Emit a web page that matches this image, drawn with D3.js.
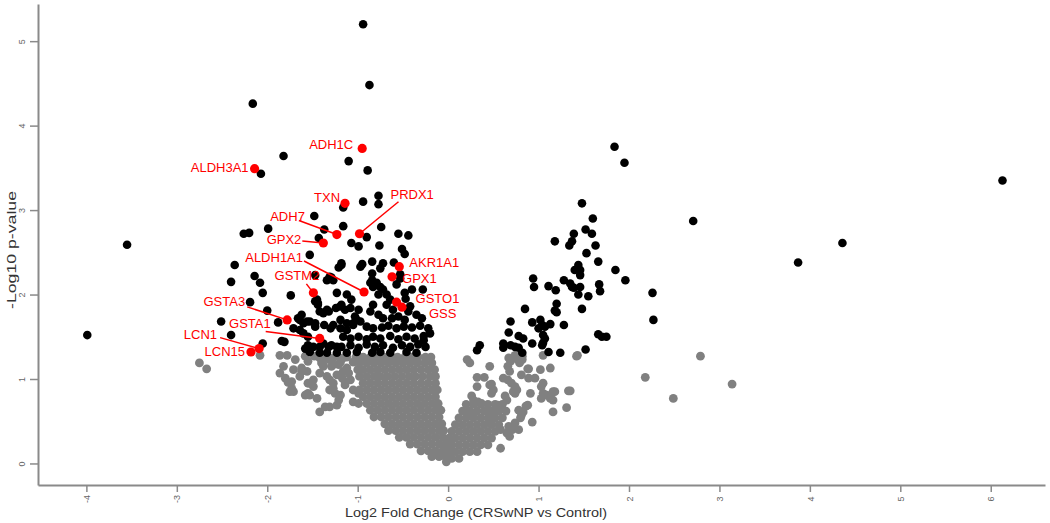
<!DOCTYPE html>
<html>
<head>
<meta charset="utf-8">
<script src="https://cdn.jsdelivr.net/npm/d3@7"></script>
<style>
body { margin: 0; background: #fff; }
svg { display: block; font-family: "Liberation Sans", Arial, sans-serif; }
</style>
</head>
<body>
<svg id="volcano"></svg>
<script>
// ticks
var xTicks = [-4, -3, -2, -1, 0, 1, 2, 3, 4, 5, 6];
var yTicks = [0, 1, 2, 3, 4, 5];

// highlighted genes (log2FC, -log10 p)
var geneNames = ["ADH1C", "ALDH3A1", "TXN", "PRDX1", "ADH7", "GPX2", "ALDH1A1", "GSTM2",
  "GSTA3", "GSTA1", "LCN1", "LCN15", "AKR1A1", "GPX1", "GSTO1", "GSS"];
var geneFC = [-0.95, -2.14, -1.14, -0.98, -1.23, -1.38, -0.93, -1.49,
  -1.78, -1.42, -2.09, -2.18, -0.54, -0.62, -0.57, -0.51];
var genePval = [3.73, 3.49, 3.08, 2.72, 2.71, 2.61, 2.03, 2.02,
  1.70, 1.48, 1.36, 1.32, 2.33, 2.21, 1.91, 1.85];

// significant proteins (black)
var sigPoints = [
  [-3.99,1.52],[-3.55,2.59],[-2.16,4.26],[-0.94,5.20],[-0.87,4.48],[-1.82,3.64],[-1.10,3.58],[-0.89,3.47],[-2.07,3.43],
  [-1.16,3.03],[-0.94,3.10],[-0.77,3.17],[-0.77,3.07],[-1.48,2.93],[-1.16,2.81],[-0.74,2.80],[-1.37,2.77],[-0.90,2.68],
  [-2.26,2.72],[-2.20,2.73],[-1.99,2.78],[-0.55,2.72],[-0.44,2.70],[-1.43,2.67],
  [-1.07,2.61],[-0.99,2.57],[-0.76,2.58],[-0.51,2.54],[-0.48,2.48],[-1.53,2.47],
  [-2.36,2.35],[-2.40,2.15],[-2.14,2.22],[-2.08,2.14],[-2.05,2.02],[-1.47,2.23],[-1.29,2.20],[-1.21,2.32],[-1.18,2.35],
  [-0.95,2.36],[-0.84,2.39],[-0.72,2.37],[-0.75,2.31],[-0.84,2.25],[-0.60,2.38],[-0.53,2.24],[-0.53,2.19],[-0.57,2.12],
  [-0.28,2.06],[-0.47,1.95],[-1.74,1.99],[-1.45,1.94],[-1.44,1.88],[-2.19,1.91],[-2.00,1.81],[-2.51,1.68],[-2.40,1.52],
  [-2.05,1.42],[-1.88,1.67],[-1.84,1.45],[-1.81,1.44],
  [-1.18,2.37],[-0.97,2.33],[-0.84,2.17],[-0.79,2.14],[-0.75,2.09],[-0.83,2.09],[-0.86,2.14],[-0.72,2.06],[-0.77,2.00],[-0.68,2.00],
  [-0.40,2.06],[-0.48,2.02],[-1.12,2.00],[-1.07,1.94],[-0.64,1.94],[-0.68,1.88],[-0.61,1.82],[-0.42,1.86],[-0.44,1.80],[-0.35,1.76],[-0.29,1.72],
  [-1.19,1.86],[-1.14,1.82],[-1.08,1.84],[-0.99,1.82],[-1.03,1.74],[-0.83,1.88],[-0.86,1.80],[-0.77,1.76],[-0.72,1.72],[-0.62,1.72],[-0.55,1.74],[-0.48,1.70],
  [-1.19,1.70],[-1.12,1.66],[-1.05,1.64],[-0.97,1.68],
  [-0.90,1.62],[-0.83,1.60],[-0.73,1.61],[-0.66,1.63],[-0.57,1.60],[-0.49,1.62],[-0.40,1.61],[-0.31,1.63],[-0.22,1.60],[-0.20,1.54],
  [-1.16,1.50],[-1.08,1.48],[-0.99,1.50],[-0.90,1.47],[-0.83,1.50],[-0.75,1.48],[-0.64,1.51],[-0.55,1.47],[-0.46,1.50],[-0.37,1.48],[-0.27,1.51],
  [-1.18,1.38],[-1.08,1.40],[-0.99,1.37],[-0.90,1.41],[-0.81,1.38],[-0.72,1.40],[-0.61,1.37],[-0.51,1.40],[-0.42,1.38],[-0.33,1.41],[-0.25,1.38],
  [-1.12,1.31],[-1.01,1.32],[-0.84,1.31],[-0.75,1.32],[-0.64,1.31],[-0.46,1.32],[-0.35,1.31],[-0.27,1.46],
  [-1.34,2.17],[-1.31,2.21],[-1.27,2.17],[-1.23,2.02],[-1.34,1.82],[-1.32,1.80],[-1.24,1.84],[-1.18,1.88],
  [-1.47,1.92],[-1.44,1.90],[-1.42,1.80],[-1.38,1.78],
  [-1.27,1.64],[-1.19,1.60],[-1.12,1.58],[-1.05,1.66],[-1.01,1.70],
  [-1.66,1.72],[-1.62,1.76],[-1.64,1.70],[-1.60,1.66],[-1.56,1.68],[-1.47,1.66],[-1.53,1.68],[-1.47,1.62],[-1.37,1.64],[-1.30,1.60],
  [-1.64,1.58],[-1.60,1.54],[-1.55,1.50],[-1.71,1.60],
  [-1.58,1.36],[-1.55,1.40],[-1.53,1.32],[-1.49,1.38],[-1.42,1.38],[-1.38,1.42],[-1.32,1.38],[-1.29,1.40],[-1.23,1.38],
  [-1.42,1.31],[-1.34,1.31],[-1.23,1.31],
  [1.84,3.75],[1.95,3.56],[2.71,2.87],[2.26,2.02],[2.27,1.70],[3.87,2.38],[4.36,2.61],[6.13,3.35],
  [1.48,3.08],[1.60,2.90],[1.52,2.77],[1.59,2.72],[1.39,2.72],[1.18,2.63],[1.37,2.63],[1.34,2.58],[1.63,2.58],[1.53,2.49],[1.66,2.39],
  [1.44,2.35],[1.40,2.29],[1.46,2.29],[1.46,2.23],[1.85,2.29],[1.96,2.17],[0.94,2.19],[0.95,2.09],[1.28,2.17],[1.11,2.10],[1.19,2.05],
  [1.35,2.13],[1.37,2.09],[1.39,2.08],[1.46,2.09],[1.67,2.12],[1.68,2.04],[1.44,2.00],[1.55,1.98],[1.20,1.89],[1.18,1.81],[1.20,1.79],
  [1.48,1.83],[0.85,1.83],[0.69,1.68],[0.93,1.67],[1.02,1.70],[1.04,1.64],[1.00,1.60],[1.07,1.62],[1.13,1.65],[1.28,1.64],
  [0.67,1.55],[0.78,1.51],[0.83,1.48],[1.05,1.52],[1.07,1.48],[1.05,1.43],[1.04,1.40],[1.66,1.53],[1.70,1.50],[1.75,1.50],
  [0.61,1.42],[0.69,1.40],[0.74,1.38],[0.78,1.37],[0.93,1.42],[0.82,1.31],[1.11,1.32],[1.24,1.31],[1.52,1.35],[0.35,1.40],[0.32,1.34],[0.61,1.37]
];

// non-significant proteins (grey)
var nsPoints = [
  [-1.02,1.26],[-0.94,1.26],[-0.86,1.26],[-0.79,1.26],[-0.71,1.26],[-0.63,1.26],[-0.56,1.26],[-0.48,1.26],[-0.40,1.26],[-0.33,1.26],[-0.25,1.26],[-0.19,1.26],
  [-0.98,1.19],[-0.90,1.19],[-0.82,1.19],[-0.74,1.19],[-0.66,1.19],[-0.58,1.19],[-0.50,1.19],[-0.42,1.19],[-0.34,1.19],[-0.26,1.19],[-0.18,1.19],
  [-1.00,1.11],[-0.94,1.11],[-0.86,1.11],[-0.78,1.11],[-0.70,1.11],[-0.62,1.11],[-0.54,1.11],[-0.46,1.11],[-0.38,1.11],[-0.30,1.11],[-0.22,1.11],[-0.15,1.11],
  [-0.98,1.03],[-0.90,1.03],[-0.82,1.03],[-0.75,1.03],[-0.67,1.03],[-0.59,1.03],[-0.51,1.03],[-0.43,1.03],[-0.36,1.03],[-0.28,1.03],[-0.20,1.03],[-0.14,1.03],
  [-0.94,0.95],[-0.86,0.95],[-0.78,0.95],[-0.70,0.95],[-0.62,0.95],[-0.54,0.95],[-0.46,0.95],[-0.38,0.95],[-0.30,0.95],[-0.22,0.95],[-0.14,0.95],
  [-0.98,0.87],[-0.90,0.87],[-0.82,0.87],[-0.74,0.87],[-0.66,0.87],[-0.58,0.87],[-0.50,0.87],[-0.42,0.87],[-0.34,0.87],[-0.26,0.87],[-0.18,0.87],[-0.12,0.87],
  [-0.94,0.79],[-0.86,0.79],[-0.78,0.79],[-0.70,0.79],[-0.62,0.79],[-0.54,0.79],[-0.46,0.79],[-0.38,0.79],[-0.30,0.79],[-0.22,0.79],[-0.14,0.79],
  [-0.90,0.71],[-0.82,0.71],[-0.74,0.71],[-0.66,0.71],[-0.58,0.71],[-0.50,0.71],[-0.42,0.71],[-0.34,0.71],[-0.26,0.71],[-0.18,0.71],[-0.11,0.71],
  [-0.86,0.63],[-0.78,0.63],[-0.70,0.63],[-0.62,0.63],[-0.54,0.63],[-0.46,0.63],[-0.38,0.63],[-0.30,0.63],[-0.22,0.63],[-0.14,0.63],[-0.08,0.63],
  [-0.82,0.55],[-0.74,0.55],[-0.66,0.55],[-0.58,0.55],[-0.50,0.55],[-0.42,0.55],[-0.34,0.55],[-0.26,0.55],[-0.18,0.55],[-0.10,0.55],
  [-0.70,0.47],[-0.62,0.47],[-0.54,0.47],[-0.46,0.47],[-0.38,0.47],[-0.30,0.47],[-0.22,0.47],[-0.14,0.47],[-0.07,0.47],
  [-0.66,0.39],[-0.58,0.39],[-0.50,0.39],[-0.42,0.39],[-0.34,0.39],[-0.26,0.39],[-0.18,0.39],[-0.10,0.39],[-0.05,0.39],
  [-0.54,0.31],[-0.46,0.31],[-0.38,0.31],[-0.30,0.31],[-0.22,0.31],[-0.14,0.31],[-0.06,0.31],
  [-0.42,0.23],[-0.34,0.23],[-0.26,0.23],[-0.18,0.23],[-0.10,0.23],[-0.03,0.23],
  [-0.30,0.15],[-0.22,0.15],[-0.14,0.15],[-0.06,0.15],[0.00,0.15],
  [-0.18,0.08],[-0.10,0.08],[-0.03,0.08],[-0.02,0.02],
  [0.20,0.70],[0.28,0.70],[0.36,0.70],[0.44,0.70],[0.52,0.70],[0.60,0.70],
  [0.16,0.62],[0.24,0.62],[0.32,0.62],[0.40,0.62],[0.48,0.62],[0.56,0.62],[0.64,0.62],
  [0.12,0.54],[0.20,0.54],[0.28,0.54],[0.36,0.54],[0.44,0.54],[0.52,0.54],[0.60,0.54],
  [0.08,0.46],[0.16,0.46],[0.24,0.46],[0.32,0.46],[0.40,0.46],[0.48,0.46],[0.56,0.46],
  [0.04,0.38],[0.12,0.38],[0.20,0.38],[0.28,0.38],[0.36,0.38],[0.44,0.38],[0.52,0.38],
  [0.01,0.30],[0.08,0.30],[0.16,0.30],[0.24,0.30],[0.32,0.30],[0.40,0.30],[0.48,0.30],
  [0.04,0.22],[0.12,0.22],[0.20,0.22],[0.28,0.22],[0.36,0.22],[0.44,0.22],
  [0.02,0.14],[0.08,0.14],[0.16,0.14],[0.24,0.14],[0.32,0.14],
  [0.04,0.06],[0.12,0.06],
  [0.21,1.23],[0.24,1.19],[0.46,1.15],[0.32,1.02],[0.40,1.02],[0.32,0.91],[0.46,0.93],[0.48,0.94],[0.50,0.87],[0.48,0.83],
  [0.61,1.01],[0.66,0.99],[0.70,0.95],[0.74,0.91],[0.66,1.15],[0.68,1.09],[0.77,1.23],[0.79,1.19],[0.81,1.25],
  [0.89,1.12],[1.02,1.11],[1.13,1.13],[0.81,1.05],[0.89,1.01],[0.96,1.01],[1.05,0.95],[1.03,0.91],[0.91,0.83],
  [0.76,0.87],[0.72,0.85],[0.74,0.83],[1.16,0.85],[1.18,0.85],[1.33,0.86],[1.35,0.86],
  [1.05,0.83],[1.09,0.81],[1.13,0.77],[1.16,0.75],[1.03,0.77],
  [1.42,1.27],[2.18,1.02],[2.49,0.77],[2.79,1.27],[3.14,0.94],[1.31,0.66],[1.16,0.61],
  [0.86,0.68],[0.88,0.69],[0.83,0.61],[0.81,0.57],[0.93,0.49],
  [0.63,0.80],[0.65,0.75],[0.59,0.69],[0.55,0.69],
  [0.26,0.80],[0.28,0.75],[0.33,0.73],[0.37,0.71],[0.22,0.61],[0.28,0.59],
  [0.58,0.65],[0.52,0.63],[0.50,0.57],[0.46,0.51],[0.43,0.62],
  [0.78,0.63],[0.80,0.54],[0.74,0.48],[0.78,0.40],[0.71,0.40],[0.67,0.44],
  [0.68,0.32],[0.65,0.36],[0.58,0.40],[0.58,0.18],
  [0.74,1.28],[0.82,1.27],[1.05,1.28],[1.43,1.28],[0.67,1.25],[0.69,1.21],[0.82,1.23],[0.88,1.12],
  [-2.08,1.28],[-2.75,1.19],[-2.67,1.12],
  [-1.86,1.28],[-1.78,1.28],[-1.69,1.23],[-1.82,1.15],[-1.86,1.07],[-1.80,1.01],[-1.77,0.96],[-1.73,0.97],[-1.71,1.11],[-1.62,1.09],[-1.64,1.03],[-1.75,0.85],[-1.71,0.85],[-1.73,0.89],
  [-1.53,0.95],[-1.55,0.83],[-1.45,0.77],[-1.42,0.61],[-1.36,0.67],[-1.31,0.67],[-1.23,0.69],[-1.58,0.81],[-1.49,0.91],[-1.53,0.81],
  [-1.62,1.13],[-1.56,1.09],[-1.49,0.99],[-1.55,0.95],
  [-1.42,1.25],[-1.40,1.19],[-1.38,1.15],[-1.42,1.07],[-1.34,1.03],[-1.31,0.99],[-1.27,0.95],[-1.31,1.23],[-1.27,1.17],[-1.23,1.27],
  [-1.16,1.09],[-1.10,1.07],[-1.08,0.99],[-1.14,0.97],[-1.31,0.87],[-1.25,0.83],[-1.19,0.81],[-1.21,0.75],[-1.05,0.87],[-0.99,0.83],[-1.05,0.73],[-0.99,0.71],
  [-1.05,1.20],[-1.12,1.26],[-1.19,1.20],[-1.34,1.25],[-1.27,1.25],[-1.16,1.25],[-1.38,1.17],[-1.29,1.15],[-1.21,1.17],[-1.12,1.13],[-1.23,1.05],[-1.17,1.01],[-1.14,0.93],[-1.27,0.89],
  [-1.58,1.27],[-1.55,1.21],[-1.48,1.27]
];

// label placement, pixels relative to the dot: text dx, dy, anchor, line start (or null)
var labelLayout = [
  [-9, 1, "end", null], [-6, 3, "end", null], [-5, -1, "end", null], [31, -35, "start", [39, -32]],
  [-32, -14, "end", [-38, -14]], [-22, 1, "end", [-21, -2]], [-61, -30, "end", [-60, -31]], [6, -13, "end", [-7, -9]],
  [-42, -14, "end", [-40, -13]], [-49, -10, "end", [-54, -7]], [-42, -10, "end", [-39, -11]], [-6, 4, "end", null],
  [10, 0, "start", null], [10, 6, "start", null], [19, 1, "start", null], [27, 11, "start", null]
];

var width = 1050, height = 523;

var svg = d3.select("#volcano")
  .attr("width", width)
  .attr("height", height);

var x = d3.scaleLinear().domain([-4.535, 6.6]).range([38, 1045]);
var y = d3.scaleLinear().domain([-0.255, 5.44]).range([485, 4]);

// axes
var xAxis = svg.append("g")
  .attr("transform", "translate(0,485)")
  .call(d3.axisBottom(x).tickValues(xTicks).tickSize(7).tickSizeOuter(0).tickFormat(d3.format("d")));

var yAxis = svg.append("g")
  .attr("transform", "translate(38,0)")
  .call(d3.axisLeft(y).tickValues(yTicks).tickSize(8).tickSizeOuter(0).tickFormat(d3.format("d")));

svg.selectAll(".domain").attr("stroke", "#8a8a8a").attr("stroke-width", 2);
svg.selectAll(".tick line").attr("stroke", "#8a8a8a").attr("stroke-width", 1.5);

xAxis.selectAll(".tick text")
  .attr("x", 0).attr("y", 0).attr("dy", "0.35em")
  .attr("transform", "translate(0,14) rotate(-90)")
  .style("text-anchor", "middle")
  .attr("fill", "#666")
  .style("font-size", "9px")
  .text(function(d){ return d < 0 ? "-" + Math.abs(d) : d; });

yAxis.selectAll(".tick text")
  .attr("x", 0).attr("y", 0).attr("dy", "0.35em")
  .attr("transform", "translate(-16,0) rotate(-90)")
  .style("text-anchor", "middle")
  .attr("fill", "#666")
  .style("font-size", "9px");

// axis titles
svg.append("text")
  .attr("x", 476).attr("y", 517)
  .attr("text-anchor", "middle")
  .attr("fill", "#333")
  .style("font-size", "13px")
  .attr("textLength", 262)
  .attr("lengthAdjust", "spacingAndGlyphs")
  .text("Log2 Fold Change (CRSwNP vs Control)");

svg.append("text")
  .attr("transform", "translate(16,250) rotate(-90)")
  .attr("text-anchor", "middle")
  .attr("fill", "#333")
  .style("font-size", "13px")
  .attr("textLength", 118)
  .attr("lengthAdjust", "spacingAndGlyphs")
  .text("-Log10 p-value");

// points
svg.append("g").selectAll("circle")
  .data(nsPoints).enter().append("circle")
  .attr("cx", function(d){ return x(d[0]); })
  .attr("cy", function(d){ return y(d[1]); })
  .attr("r", 4.4)
  .attr("fill", "#808080");

svg.append("g").selectAll("circle")
  .data(sigPoints).enter().append("circle")
  .attr("cx", function(d){ return x(d[0]); })
  .attr("cy", function(d){ return y(d[1]); })
  .attr("r", 4.3)
  .attr("fill", "#000");

// highlighted genes
var genes = geneNames.map(function(n, i){
  return {name: n, fc: geneFC[i], p: genePval[i], lay: labelLayout[i]};
});

var g = svg.append("g").selectAll("g")
  .data(genes).enter().append("g")
  .attr("transform", function(d){ return "translate(" + x(d.fc) + "," + y(d.p) + ")"; });

g.filter(function(d){ return d.lay[3]; })
  .append("line")
  .attr("x1", function(d){ return d.lay[3][0]; })
  .attr("y1", function(d){ return d.lay[3][1]; })
  .attr("x2", 0).attr("y2", 0)
  .attr("stroke", "#ff0000")
  .attr("stroke-width", 1.5);

g.append("circle")
  .attr("r", 4.6)
  .attr("fill", "#ff0000");

g.append("text")
  .attr("x", function(d){ return d.lay[0]; })
  .attr("y", function(d){ return d.lay[1]; })
  .attr("text-anchor", function(d){ return d.lay[2]; })
  .attr("fill", "#ff0000")
  .style("font-size", "13px")
  .text(function(d){ return d.name; });
</script>
</body>
</html>
